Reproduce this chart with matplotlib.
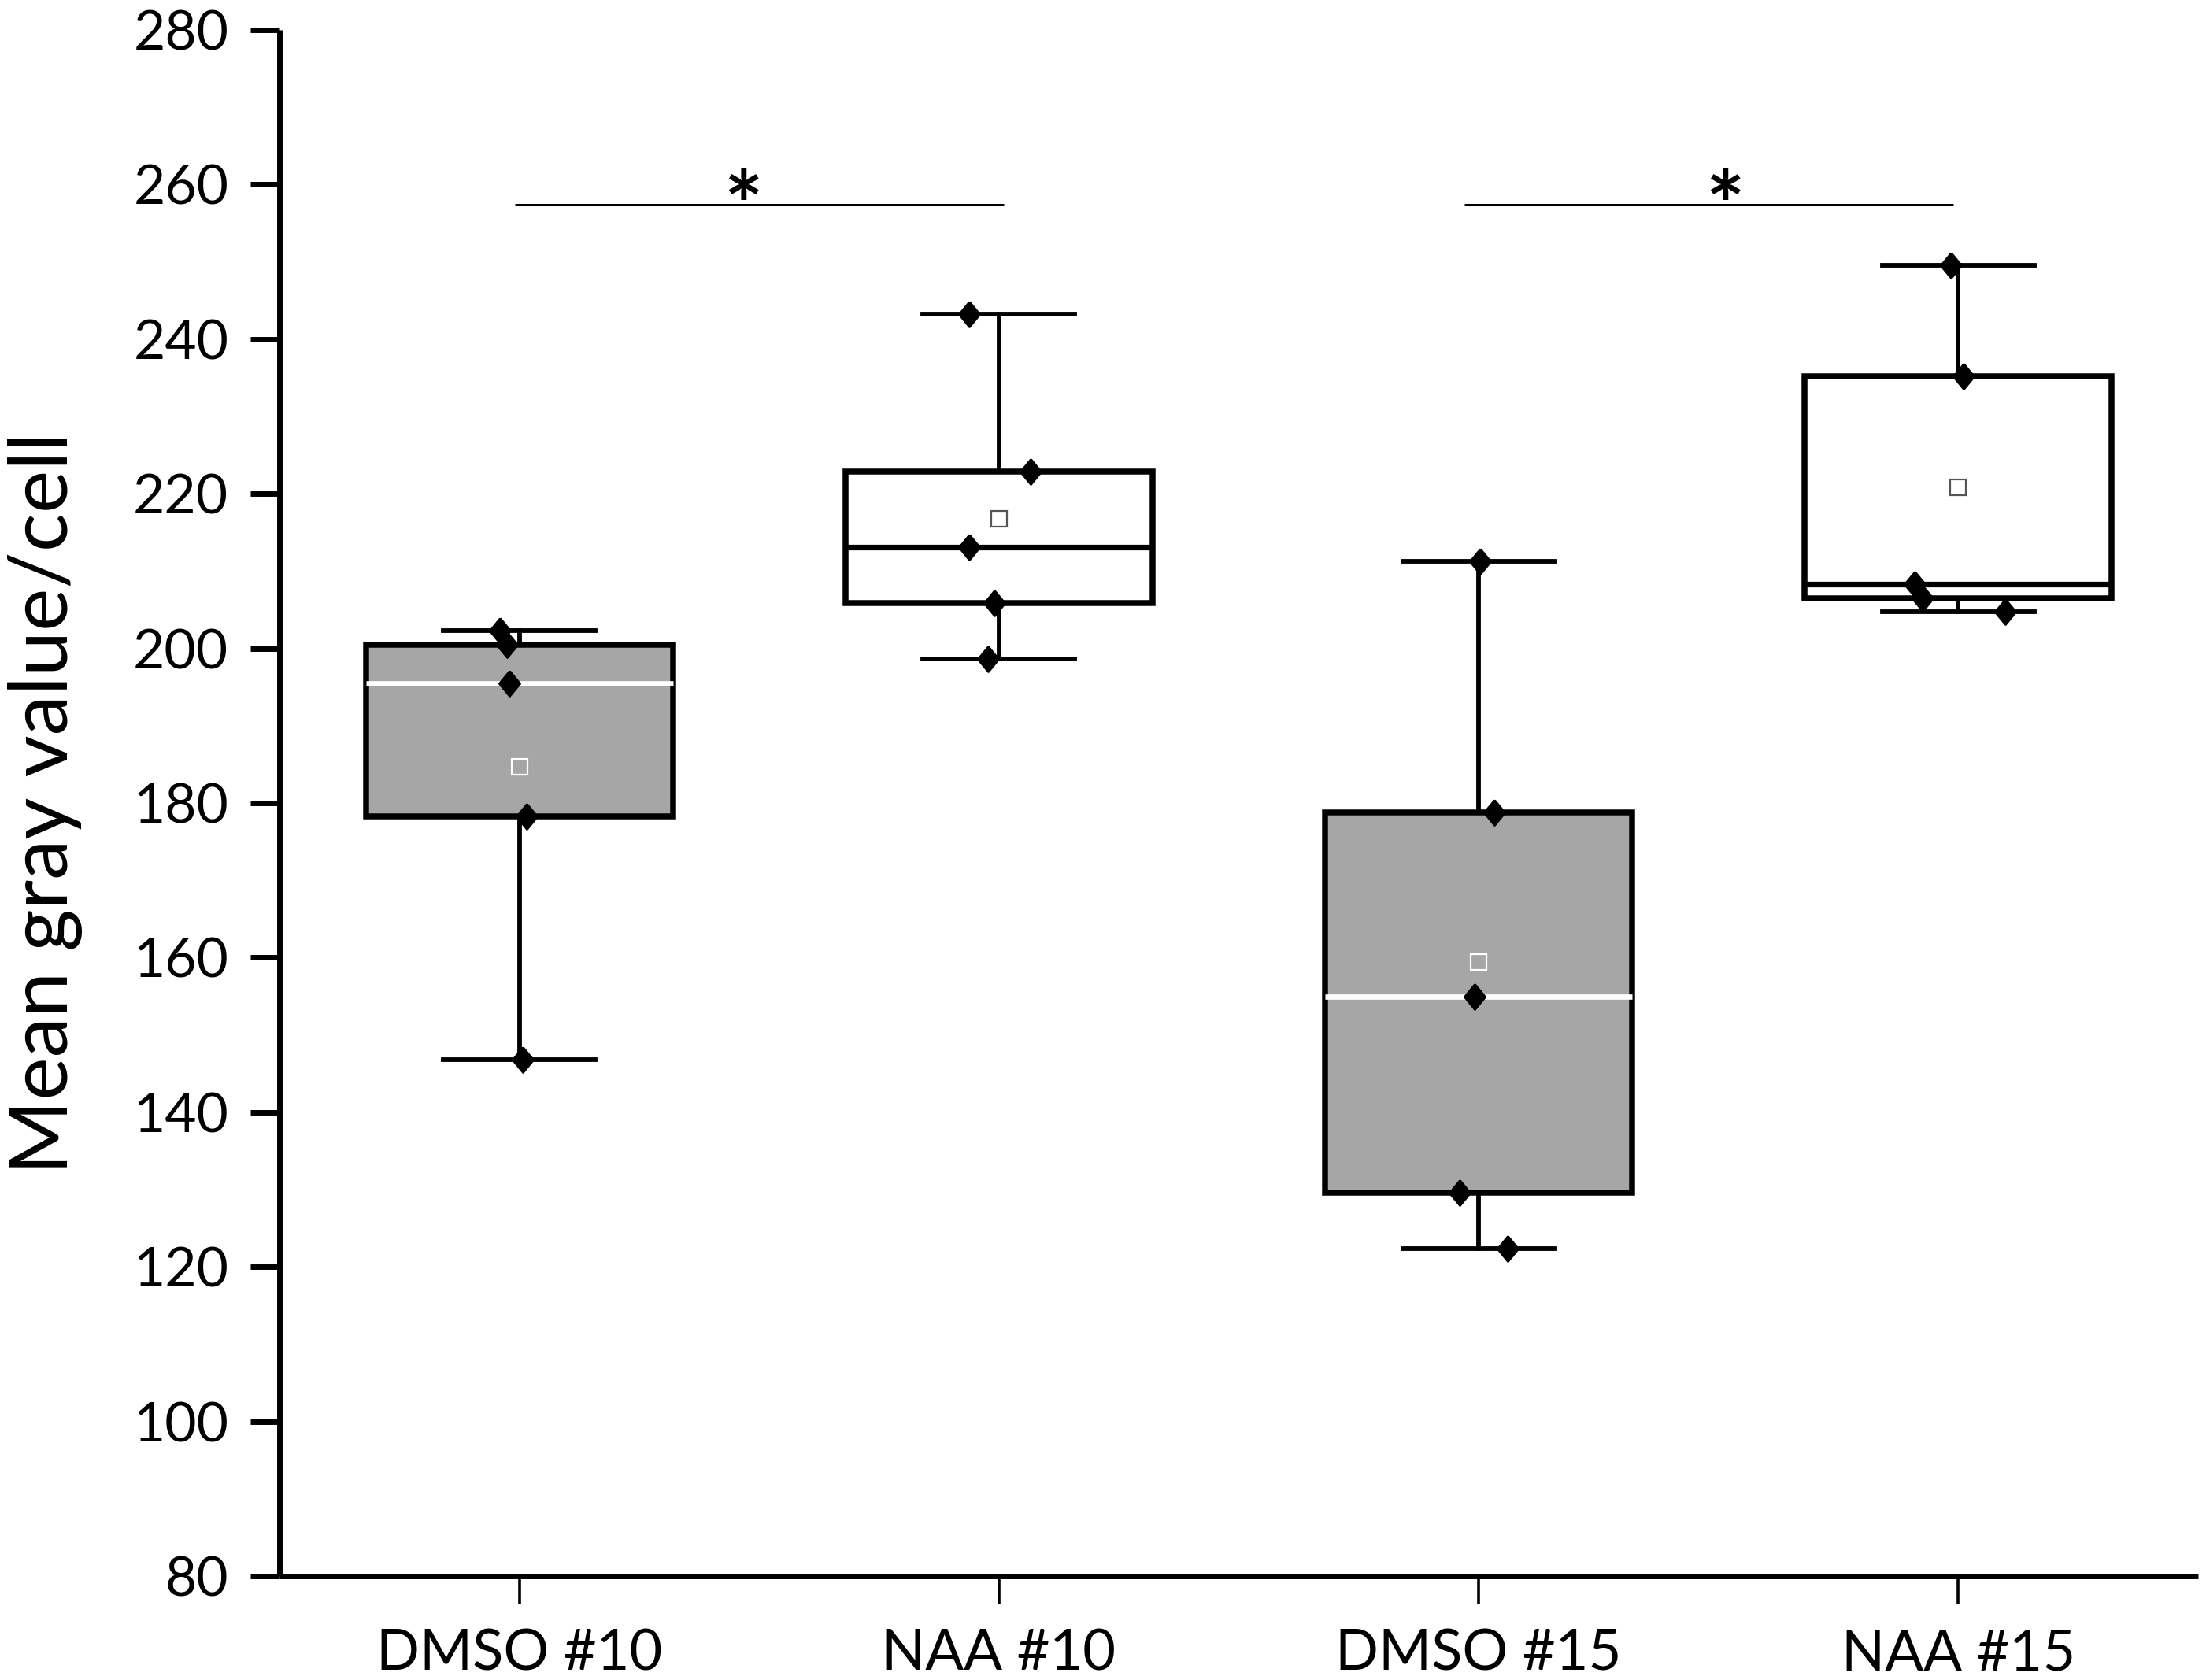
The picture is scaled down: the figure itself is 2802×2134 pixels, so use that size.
import matplotlib
matplotlib.use("Agg")
import matplotlib.pyplot as plt
import numpy as np

# ---- data ----
categories = ["DMSO #10", "NAA #10", "DMSO #15", "NAA #15"]
dmso10 = [202.3, 200.5, 195.5, 178.3, 146.8]
naa10 = [243.2, 222.9, 213.1, 205.9, 198.6]
dmso15 = [211.3, 178.8, 154.9, 129.6, 122.4]
naa15 = [249.6, 235.2, 208.3, 206.5, 204.7]
# horizontal scatter of the points (fraction of category spacing)
jitter_dmso10 = [-0.041, -0.026, -0.021, 0.016, 0.007]
jitter_naa10 = [-0.062, 0.066, -0.062, -0.010, -0.022]
jitter_dmso15 = [0.003, 0.032, -0.009, -0.039, 0.060]
jitter_naa15 = [-0.016, 0.011, -0.091, -0.075, 0.098]
yticks = [80, 100, 120, 140, 160, 180, 200, 220, 240, 260, 280]
sig_pairs = [(0.99, 2.01), (2.97, 3.99)]
sig_level = 257.4
sig_star_x = [1.466, 3.513]
sig_text = "*"

groups = [dmso10, naa10, dmso15, naa15]
jitters = [jitter_dmso10, jitter_naa10, jitter_dmso15, jitter_naa15]
fills = ["#a6a6a6", "white", "#a6a6a6", "white"]
median_colors = ["white", "black", "white", "black"]
mean_edges = ["white", "#555555", "white", "#555555"]

plt.rcParams["font.family"] = ["Lato", "DejaVu Sans"]

fig = plt.figure(figsize=(14.01, 10.67), dpi=200)
ax = fig.add_axes([0.1267, 0.0619, 0.8697, 0.9203])

positions = np.arange(1, len(categories) + 1)

for i, (vals, pos) in enumerate(zip(groups, positions)):
    bp = ax.boxplot([vals], positions=[pos], widths=0.64, whis=(0, 100),
                    patch_artist=True, showmeans=True, showfliers=False,
                    capwidths=0.317,
                    boxprops=dict(facecolor=fills[i], edgecolor="black", linewidth=2.7),
                    whiskerprops=dict(color="black", linewidth=2.1),
                    capprops=dict(color="black", linewidth=2.1),
                    medianprops=dict(color=median_colors[i],
                                     linewidth=2.4 if median_colors[i] == "white" else 2.6),
                    meanprops=dict(marker="s", markerfacecolor="none",
                                   markeredgecolor=mean_edges[i], markersize=7,
                                   markeredgewidth=0.8),
                    zorder=2)

diamond = [(0, 1), (0.82, 0), (0, -1), (-0.82, 0), (0, 1)]
for vals, jit, pos in zip(groups, jitters, positions):
    xs = pos + np.array(jit)
    ax.plot(xs, vals, linestyle="none", marker=diamond, markersize=11.5,
            color="black", zorder=5)

# significance bars
for (x0, x1), sx in zip(sig_pairs, sig_star_x):
    ax.plot([x0, x1], [sig_level, sig_level], color="black", linewidth=1.1,
            solid_capstyle="butt", zorder=3)
    ax.text(sx, sig_level - 4.4, sig_text, ha="center", va="baseline",
            fontsize=42, fontweight="bold", color="black")

ax.set_xlim(0.5, 4.5)
ax.set_ylim(80, 280)
ax.set_yticks(yticks)
ax.set_yticklabels([str(t) for t in yticks])
ax.set_xticks(positions)
ax.set_xticklabels(categories)

for s in ["top", "right"]:
    ax.spines[s].set_visible(False)
for s in ["left", "bottom"]:
    ax.spines[s].set_linewidth(2.5)
    ax.spines[s].set_capstyle("butt")

ax.tick_params(axis="y", direction="out", length=13.3, width=2.5,
               labelsize=25, pad=10)
ax.tick_params(axis="x", direction="out", length=13, width=1.3,
               labelsize=26, pad=11)

ax.set_ylabel("Mean gray value/cell", fontsize=37)
ax.yaxis.set_label_coords(-0.1025, 0.5)

fig.savefig("out.png", dpi=200)
